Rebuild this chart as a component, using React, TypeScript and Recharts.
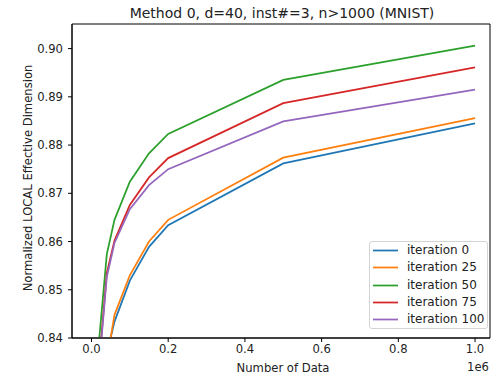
import React from 'react';
import { LineChart, Line, XAxis, YAxis, ReferenceArea, Legend } from 'recharts';

const xValues = [10000, 40000, 60000, 100000, 150000, 200000, 500000, 1000000];
const iter0 = [0.81, 0.8367, 0.8434, 0.8519, 0.8589, 0.8634, 0.8762, 0.8845];
const iter25 = [0.81, 0.8353, 0.8448, 0.853, 0.86, 0.8645, 0.8774, 0.8856];
const iter50 = [0.8308, 0.8574, 0.8645, 0.8724, 0.8783, 0.8823, 0.8935, 0.9006];
const iter75 = [0.8255, 0.8535, 0.8602, 0.8676, 0.8733, 0.8773, 0.8887, 0.8961];
const iter100 = [0.825, 0.8527, 0.8597, 0.8667, 0.8717, 0.875, 0.8849, 0.8915];

const seriesNames = ['iteration 0', 'iteration 25', 'iteration 50', 'iteration 75', 'iteration 100'];
const seriesKeys = ['s0', 's25', 's50', 's75', 's100'];
const seriesColors = ['#1f77b4', '#ff7f0e', '#2ca02c', '#d62728', '#9467bd'];
const xTicks = [0, 200000, 400000, 600000, 800000, 1000000];
const yTicks = [0.84, 0.85, 0.86, 0.87, 0.88, 0.89, 0.9];

const title = 'Method 0, d=40, inst#=3, n>1000 (MNIST)';
const xLabel = 'Number of Data';
const yLabel = 'Normalized LOCAL Effective Dimension';
const xOffsetText = '1e6';

const seriesValues = [iter0, iter25, iter50, iter75, iter100];
const data = xValues.map((x, i) => {
  const row: Record<string, number> = { x };
  seriesKeys.forEach((k, j) => {
    row[k] = seriesValues[j][i];
  });
  return row;
});

const X_MIN = -50800;
const X_MAX = 1039000;
const Y_MIN = 0.84;
const Y_MAX = 0.9051;

const FONT = '"DejaVu Sans", sans-serif';
const FS = 11.6;

const renderLegend = () => (
  <div
    style={{
      border: '1px solid #d4d4d4',
      borderRadius: 3,
      background: 'rgba(255,255,255,0.8)',
      width: 119,
      boxSizing: 'border-box',
      padding: '0px 0',
    }}
  >
    {seriesNames.map((n, i) => (
      <div key={n} style={{ display: 'flex', alignItems: 'center', height: 17.3 }}>
        <svg width={37} height={17} style={{ display: 'block' }}>
          <line x1={3} x2={28} y1={8.5} y2={8.5} stroke={seriesColors[i]} strokeWidth={1.75} />
        </svg>
        <span style={{ fontSize: 12, fontFamily: FONT, color: '#222', lineHeight: '17px', whiteSpace: 'nowrap' }}>{n}</span>
      </div>
    ))}
  </div>
);

export default function App() {
  return (
    <div style={{ position: 'absolute', left: 0, top: 0, width: 492, height: 377, background: '#fff' }}>
      <LineChart width={492} height={377} data={data} margin={{ top: 24, right: 2, left: 0, bottom: 0 }}>
        <XAxis
          dataKey="x"
          type="number"
          domain={[X_MIN, X_MAX]}
          allowDataOverflow
          ticks={xTicks}
          tickFormatter={(v: number) => (v / 1e6).toFixed(1)}
          height={39}
          tickSize={4}
          tickMargin={3}
          stroke="#000"
          tick={{ fontSize: FS, fill: '#222', fontFamily: FONT }}
        />
        <YAxis
          type="number"
          domain={[Y_MIN, Y_MAX]}
          allowDataOverflow
          ticks={yTicks}
          tickFormatter={(v: number) => v.toFixed(2)}
          width={72}
          tickSize={4}
          tickMargin={5}
          stroke="#000"
          tick={{ fontSize: FS, fill: '#222', fontFamily: FONT }}
        />
        <ReferenceArea
          x1={X_MIN}
          x2={X_MAX}
          y1={Y_MIN}
          y2={Y_MAX}
          fill="none"
          stroke="#000"
          strokeWidth={1}
          ifOverflow="visible"
        />
        {seriesKeys.map((k, i) => (
          <Line
            key={k}
            dataKey={k}
            name={seriesNames[i]}
            stroke={seriesColors[i]}
            strokeWidth={1.75}
            dot={false}
            isAnimationActive={false}
            type="linear"
          />
        ))}
        <Legend
          layout="vertical"
          align="center"
          verticalAlign="middle"
          content={renderLegend}
          wrapperStyle={{ left: 369, top: 241, width: 'auto', height: 'auto' }}
        />
      </LineChart>
      <svg
        width={492}
        height={377}
        style={{ position: 'absolute', left: 0, top: 0, pointerEvents: 'none' }}
      >
        <text x={282} y={18} textAnchor="middle" fontSize={14} fontFamily={FONT} fill="#222">
          {title}
        </text>
        <text x={283} y={372} textAnchor="middle" fontSize={FS} fontFamily={FONT} fill="#222">
          {xLabel}
        </text>
        <text x={489} y={371} textAnchor="end" fontSize={FS} fontFamily={FONT} fill="#222">
          {xOffsetText}
        </text>
        <text
          x={32}
          y={178}
          textAnchor="middle"
          fontSize={FS}
          fontFamily={FONT}
          fill="#222"
          transform="rotate(-90 32 178)"
        >
          {yLabel}
        </text>
      </svg>
    </div>
  );
}
